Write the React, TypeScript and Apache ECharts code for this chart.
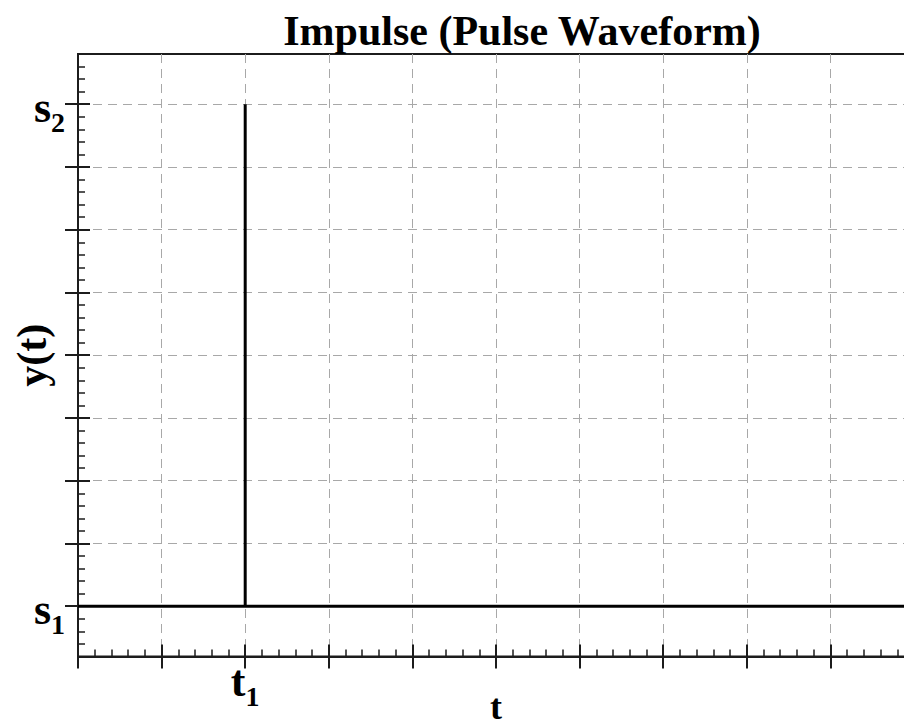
import React, { useEffect, useRef } from "react";
import * as echarts from "echarts";

// ---- data ----
const TITLE = "Impulse (Pulse Waveform)";
const X_NAME = "t";
const Y_NAME = "y(t)";
// time axis (one unit = one major grid division)
const T_MIN = 0;
const T_MAX = 10;
const T1 = 2; // impulse instant
// level axis (one unit = one minor tick)
const S1 = 0; // baseline level
const S2 = 40; // impulse peak level
const Y_MIN = -4;
const Y_MAX = 44;
// pulse waveform points: [t, y]
const pulseT = [T_MIN, T1, T1, T1, T_MAX];
const pulseY = [S1, S1, S2, S1, S1];
// tick labels
const xTickLabels: Record<number, string> = { [T1]: "{m|t}{b|1}" };
const yTickLabels: Record<number, string> = { [S1]: "{m|s}{b|1}", [S2]: "{m|s}{b|2}" };

const FONT = "Liberation Serif";
const AX = "#1c1c1c";
const GRID_DASH = "#a8a8a8";

const rich = {
  m: { fontFamily: FONT, fontWeight: "bold", fontSize: 44, lineHeight: 44, padding: [6, 0, 0, 0], color: "#000" },
  b: { fontFamily: FONT, fontWeight: "bold", fontSize: 28, lineHeight: 28, padding: [36, 0, 0, 0], color: "#000" },
};

export default function App() {
  const ref = useRef<HTMLDivElement>(null);
  useEffect(() => {
    if (!ref.current) return;
    const chart = echarts.init(ref.current, null, { renderer: "svg" });
    const left = 78;
    const width = 836;
    const top0 = 54;
    const height0 = 602.4;
    const top1 = 104;
    const height1 = 502;
    const dash = { color: GRID_DASH, width: 1, type: [9, 6] as any };
    chart.setOption({
      animation: false,
      backgroundColor: "#fff",
      title: {
        text: TITLE,
        left: 517,
        top: 5,
        textAlign: "center",
        textStyle: { fontFamily: FONT, fontWeight: "bold", fontSize: 42, color: "#000" },
      },
      grid: [
        { left, top: top0, width, height: height0, show: true, borderColor: AX, borderWidth: 2, backgroundColor: "transparent", outerBoundsMode: "none", containLabel: false },
        { left, top: top1, width, height: height1, show: false, outerBoundsMode: "none", containLabel: false },
      ],
      xAxis: [
        {
          gridIndex: 0, type: "value", min: T_MIN, max: T_MAX, interval: 1, position: "bottom",
          axisLine: { show: true, onZero: false, lineStyle: { color: AX, width: 2 } },
          axisTick: { show: true, inside: true, length: 12, lineStyle: { color: AX, width: 2 } },
          minorTick: { show: true, splitNumber: 5, length: 7, lineStyle: { color: AX, width: 1.5 } },
          axisLabel: { show: false },
          splitLine: { show: true, lineStyle: dash },
          name: X_NAME, nameLocation: "middle", nameGap: 38,
          nameTextStyle: { fontFamily: FONT, fontWeight: "bold", fontSize: 36, lineHeight: 26, color: "#000" },
        },
        {
          gridIndex: 0, type: "value", min: T_MIN, max: T_MAX, interval: 1, position: "bottom",
          axisLine: { show: false, onZero: false },
          axisTick: { show: true, inside: false, length: 12, lineStyle: { color: AX, width: 2 } },
          axisLabel: {
            show: true, margin: 0, showMinLabel: true, showMaxLabel: true,
            formatter: (v: number) => xTickLabels[v] || "",
            rich,
          },
          splitLine: { show: false },
        },
        {
          gridIndex: 1, type: "value", min: T_MIN, max: T_MAX, show: false,
        },
      ],
      yAxis: [
        {
          gridIndex: 0, type: "value", min: Y_MIN, max: Y_MAX, interval: 1, position: "left",
          axisLine: { show: true, onZero: false, lineStyle: { color: AX, width: 2 } },
          axisTick: { show: true, inside: true, length: 7, lineStyle: { color: AX, width: 1.5 } },
          axisLabel: { show: false },
          splitLine: { show: false },
          name: Y_NAME, nameLocation: "middle", nameGap: 25, nameRotate: 90,
          nameTextStyle: { fontFamily: FONT, fontWeight: "bold", fontSize: 42, color: "#000" },
        },
        {
          gridIndex: 1, type: "value", min: S1, max: S2, interval: 5, position: "left",
          axisLine: { show: false, onZero: false },
          axisTick: { show: true, inside: false, length: 13, lineStyle: { color: AX, width: 2 } },
          axisLabel: {
            show: true, margin: 13, showMinLabel: true, showMaxLabel: true,
            formatter: (v: number) => yTickLabels[v] || "",
            rich,
          },
          splitLine: { show: true, lineStyle: dash },
        },
        {
          gridIndex: 1, type: "value", min: S1, max: S2, interval: 5, position: "left",
          axisLine: { show: false, onZero: false },
          axisTick: { show: true, inside: true, length: 12, lineStyle: { color: AX, width: 2 } },
          axisLabel: { show: false },
          splitLine: { show: false },
        },
      ],
      series: [
        {
          type: "line",
          xAxisIndex: 0,
          yAxisIndex: 0,
          data: pulseT.map((t, i) => [t, pulseY[i]]),
          showSymbol: false,
          symbol: "none",
          lineStyle: { color: "#000", width: 3 },
          clip: true,
          z: 5,
        },
      ],
    });
    return () => chart.dispose();
  }, []);
  return <div ref={ref} style={{ position: "absolute", left: 0, top: 0, width: 904, height: 726 }} />;
}
